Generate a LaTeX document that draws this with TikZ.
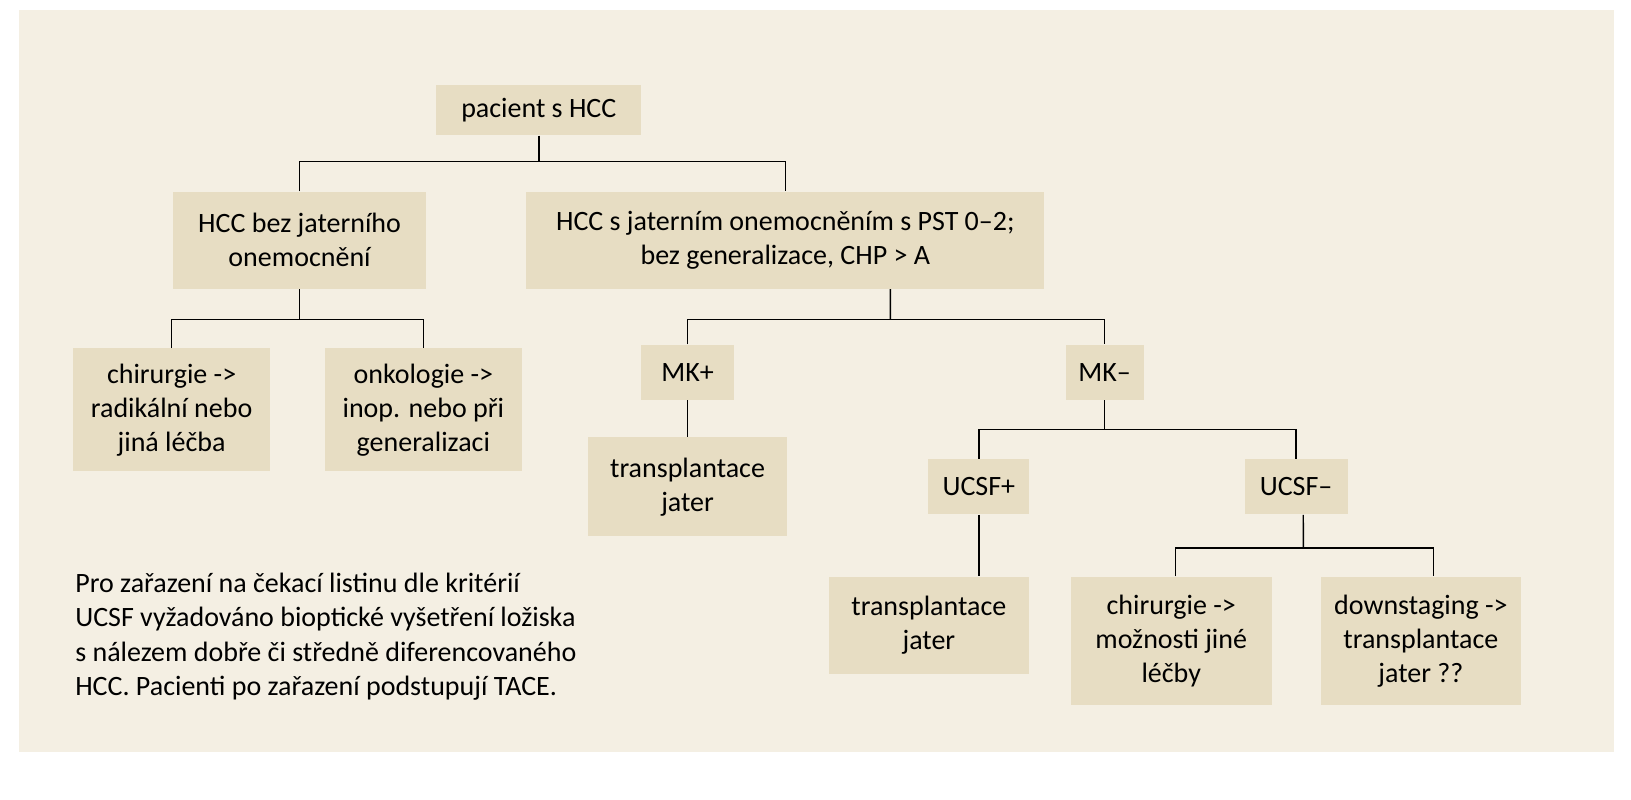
\documentclass[tikz,border=0pt]{standalone}
\usepackage{fontspec}
\setmainfont{Carlito}
\usetikzlibrary{positioning}
\definecolor{bgcream}{HTML}{F4EFE3}
\definecolor{boxtan}{HTML}{E7DDC3}
\begin{document}
\begin{tikzpicture}[x=0.52pt,y=-0.52pt,
	box/.style={fill=boxtan,align=center,inner sep=0pt,font=\fontsize{14}{17}\selectfont},
	link/.style={draw=black,line width=0.7pt}]
	\useasboundingbox (0,0) rectangle (1568,769);
	\fill[bgcream] (18,10) rectangle (1552,723);

	\begin{scope}[every node/.append style={box}]
		\node[minimum width=102.4pt,minimum height=25pt] (pac) at (518,106) {pacient s HCC};
		\node[minimum width=126.4pt,minimum height=48.4pt] (bez) at (288,231) {HCC bez jaterního\\onemocnění};
		\node[minimum width=259pt,minimum height=48.4pt] (hccs) at (755,231) {HCC s jaterním onemocněním s PST 0–2;\\bez generalizace, CHP > A};
		\node[minimum width=98.8pt,minimum height=61.4pt] (chir) at (165,394) {chirurgie -{}>\\radikální nebo\\jiná léčba};
		\node[minimum width=98.3pt,minimum height=61.4pt] (onko) at (407,394) {onkologie -{}>\\inop. nebo při\\generalizaci};
		\node[minimum width=46.8pt,minimum height=27.6pt] (mkp) at (661,358) {MK+};
		\node[minimum width=39pt,minimum height=27.6pt] (mkm) at (1062,358) {MK–};
		\node[minimum width=99.3pt,minimum height=49.4pt] (trA) at (661,468) {transplantace\\jater};
		\node[minimum width=50.4pt,minimum height=27.6pt] (ucp) at (941,468) {UCSF+};
		\node[minimum width=51.5pt,minimum height=27.6pt] (ucm) at (1246,468) {UCSF–};
		\node[minimum width=99.8pt,minimum height=48.4pt] (trB) at (893,601) {transplantace\\jater};
		\node[minimum width=100.4pt,minimum height=64pt] (chirB) at (1126,616) {chirurgie -{}>\\možnosti jiné\\léčby};
		\node[minimum width=99.8pt,minimum height=64pt] (down) at (1366,616) {downstaging -{}>\\transplantace\\jater ??};
	\end{scope}

	\node[anchor=north west,align=left,inner sep=0pt,font=\fontsize{14}{17}\selectfont] (note) at (72,551)
		{Pro zařazení na čekací listinu dle kritérií\\UCSF vyžadováno bioptické vyšetření ložiska\\s nálezem dobře či středně diferencovaného\\HCC. Pacienti po zařazení podstupují TACE.};

	% spojnice
	\coordinate (j1) at (518,155);
	\coordinate (j2) at (288,307);
	\coordinate (j3) at (856,307);
	\coordinate (j4) at (1062,413);
	\coordinate (j5) at (1253,527);
	\draw[link] (pac) -- (j1);
	\draw[link] (bez.north) |- (j1) -| (hccs.north);
	\draw[link] (bez) -- (j2);
	\draw[link] (chir.north) |- (j2) -| (onko.north);
	\draw[link] ([xshift=52.5pt]hccs.south) -- (j3);
	\draw[link] (mkp.north) |- (j3) -| (mkm.north);
	\draw[link] (mkp) -- (trA);
	\draw[link] (mkm) -- (j4);
	\draw[link] (ucp.north) |- (j4) -| (ucm.north);
	\draw[link] (ucp.south) -- (ucp.south|-trB.north);
	\draw[link] ([xshift=3.6pt]ucm.south) -- (j5);
	\draw[link] ([xshift=2pt]chirB.north) |- (j5) -| ([xshift=6.2pt]down.north);
\end{tikzpicture}
\end{document}
